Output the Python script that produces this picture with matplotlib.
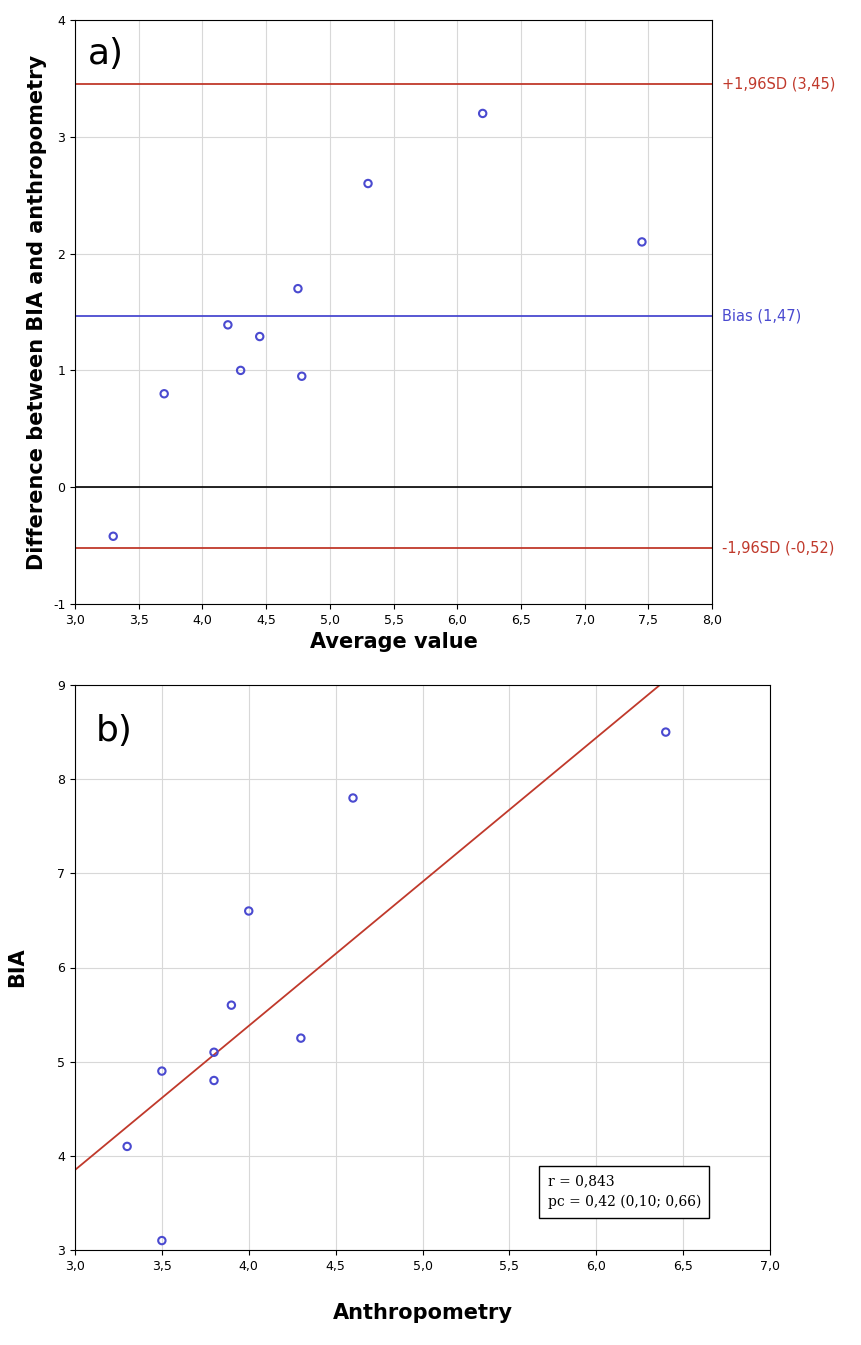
import matplotlib.pyplot as plt
import numpy as np

plt.rcParams["axes.unicode_minus"] = False

# panel a data (Bland-Altman)
avg_vals = [3.3, 3.7, 4.2, 4.3, 4.45, 4.75, 4.78, 5.3, 6.2, 7.45]
diff_vals = [-0.42, 0.8, 1.39, 1.0, 1.29, 1.7, 0.95, 2.6, 3.2, 2.1]
bias = 1.47
upper_loa = 3.45
lower_loa = -0.52

# panel b data (correlation)
anthro = [3.3, 3.5, 3.5, 3.8, 3.8, 3.9, 4.0, 4.3, 4.6, 6.4]
bia = [4.1, 4.9, 3.1, 5.1, 4.8, 5.6, 6.6, 5.25, 7.8, 8.5]
fit_intercept = -0.74
fit_slope = 1.53


def comma(v, _=None):
    return ("%.1f" % v).replace(".", ",")


W, H = 861, 1345
fig = plt.figure(figsize=(W / 100, H / 100), dpi=100)
red = "#c0392b"
blue = "#4a4ad0"

ax = fig.add_axes([75 / W, 1 - 604 / H, 637 / W, 584 / H])
ax.set_xlim(3.0, 8.0)
ax.set_ylim(-1, 4)
ax.set_xticks(np.arange(3.0, 8.01, 0.5))
ax.set_yticks(range(-1, 5))
ax.xaxis.set_major_formatter(comma)
ax.grid(color="#d8d8d8", lw=0.8)
ax.axhline(upper_loa, color=red, lw=1.3)
ax.axhline(bias, color=blue, lw=1.3)
ax.axhline(0, color="black", lw=1.2)
ax.axhline(lower_loa, color=red, lw=1.3)
ax.scatter(avg_vals, diff_vals, s=28, facecolors="none", edgecolors=blue, lw=1.5, zorder=3)
for yv, txt, c in [(upper_loa, "+1,96SD (3,45)", red), (bias, "Bias (1,47)", blue),
                   (lower_loa, "-1,96SD (-0,52)", red)]:
    ax.text(8.08, yv, txt, color=c, va="center", fontsize=10.5, clip_on=False)
ax.text(3.1, 3.62, "a)", fontsize=26)
ax.set_xlabel("Average value", fontsize=15, fontweight="bold")
ax.set_ylabel("Difference between BIA and anthropometry", fontsize=15, fontweight="bold")
ax.tick_params(labelsize=9)

bx = fig.add_axes([75 / W, 1 - 1250 / H, 695 / W, 565 / H])
bx.set_xlim(3.0, 7.0)
bx.set_ylim(3, 9)
bx.set_xticks(np.arange(3.0, 7.01, 0.5))
bx.xaxis.set_major_formatter(comma)
bx.grid(color="#d8d8d8", lw=0.8)
xs = np.array([3.0, 7.0])
bx.plot(xs, fit_intercept + fit_slope * xs, color=red, lw=1.3)
bx.scatter(anthro, bia, s=28, facecolors="none", edgecolors=blue, lw=1.5, zorder=3)
bx.text(3.12, 8.4, "b)", fontsize=26)
bx.text(5.72, 3.62, "r = 0,843\npc = 0,42 (0,10; 0,66)", family="DejaVu Serif", fontsize=10,
        linespacing=1.6, va="center",
        bbox=dict(boxstyle="square,pad=0.6", fc="white", ec="black"))
bx.set_xlabel("Anthropometry", fontsize=15, fontweight="bold", labelpad=22)
bx.set_ylabel("BIA", fontsize=15, fontweight="bold", labelpad=22)
bx.tick_params(labelsize=9)

fig.savefig("out.png", dpi=100)
